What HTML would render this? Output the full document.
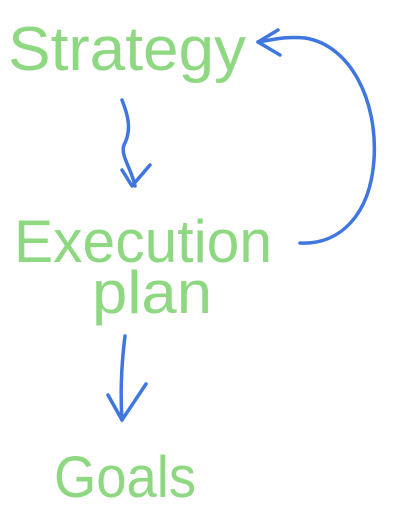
<!DOCTYPE html>
<html><head><style>
html,body{margin:0;padding:0;background:#fff;width:402px;height:526px;overflow:hidden}
svg{display:block}
text{font-family:"Liberation Sans",sans-serif;fill:#8fd882}
</style></head><body>
<svg width="402" height="526" viewBox="0 0 402 526">
<text x="8" y="70" font-size="62" textLength="238" lengthAdjust="spacingAndGlyphs">Strategy</text>
<text x="14" y="262" font-size="60" textLength="258" lengthAdjust="spacingAndGlyphs">Execution</text>
<text x="92" y="313" font-size="60" textLength="120" lengthAdjust="spacingAndGlyphs">plan</text>
<text x="54" y="497" font-size="58" textLength="142" lengthAdjust="spacingAndGlyphs">Goals</text>
<g fill="none" stroke="#3f76e0" stroke-width="3.5" stroke-linecap="round" stroke-linejoin="round">
<path d="M122 100 C128 115,132 130,124 145 C120 155,132 170,135 186"/>
<path d="M122 170 L132 186 L150 165"/>
<path d="M125 336 C122 360,120 390,122 420"/>
<path d="M108 395 L122 420 L146 384"/>
<path d="M300 243 C340 245,370 215,374 160 C378 100,350 45,305 38 C285 36,272 40,258 42"/>
<path d="M278 30 L258 42 L280 55"/>
</g>
</svg>
</body></html>
